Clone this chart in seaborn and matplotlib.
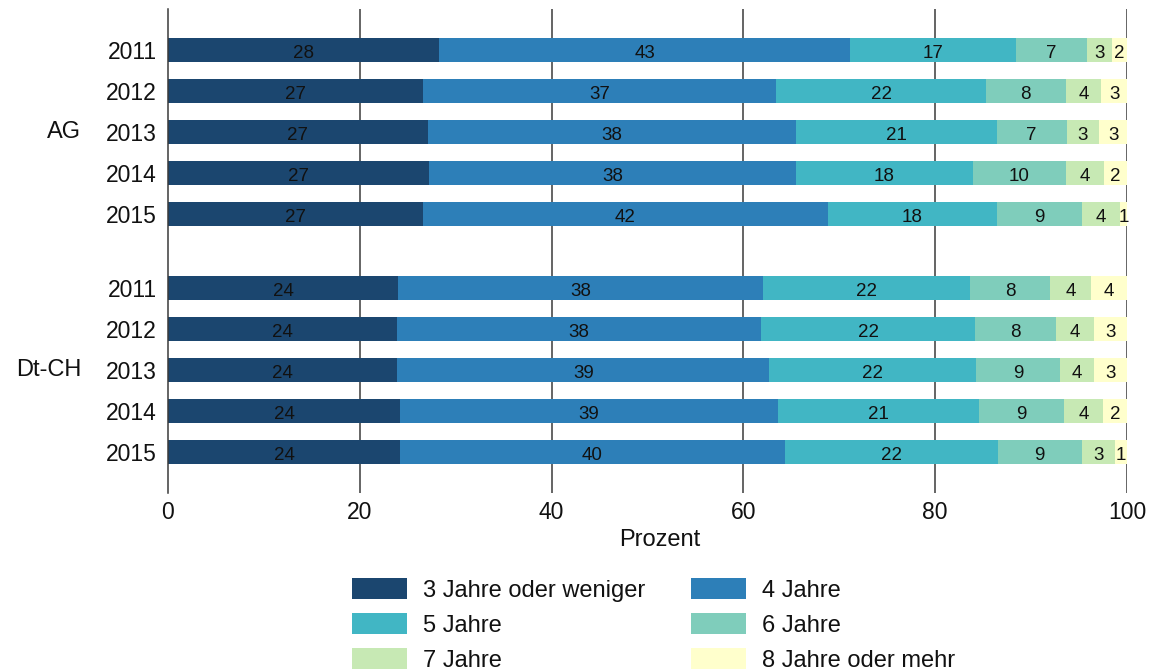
import matplotlib
matplotlib.use("Agg")
import matplotlib.pyplot as plt
import matplotlib.transforms as mtransforms
from matplotlib.patches import Patch
import seaborn as sns
import pandas as pd
import numpy as np

# ---- data ----
groups = ["AG", "Dt-CH"]
years = ["2011", "2012", "2013", "2014", "2015"]
categories = ["3 Jahre oder weniger", "4 Jahre", "5 Jahre", "6 Jahre", "7 Jahre", "8 Jahre oder mehr"]
# rows: AG 2011..2015, Dt-CH 2011..2015
jahre3 = [28.3, 26.6, 27.1, 27.2, 26.6, 24.0, 23.9, 23.9, 24.2, 24.2]
jahre4 = [42.8, 36.8, 38.4, 38.3, 42.2, 38.0, 37.9, 38.8, 39.4, 40.1]
jahre5 = [17.3, 21.9, 20.9, 18.4, 17.6, 21.6, 22.4, 21.6, 21.0, 22.2]
jahre6 = [7.4, 8.3, 7.3, 9.7, 8.9, 8.4, 8.4, 8.7, 8.8, 8.8]
jahre7 = [2.6, 3.7, 3.4, 4.0, 4.0, 4.2, 4.0, 3.6, 4.1, 3.4]
jahre8 = [1.6, 2.7, 2.9, 2.4, 0.7, 3.8, 3.4, 3.4, 2.5, 1.3]
colors = ["#1b466f", "#2d7fb8", "#41b6c4", "#7fcdbb", "#c7e9b4", "#ffffcc"]

series = [jahre3, jahre4, jahre5, jahre6, jahre7, jahre8]

# ---- layout ----
group_gap = 5.8
positions = [gi * group_gap + yi for gi in range(len(groups)) for yi in range(len(years))]
tick_labels = [y for _ in groups for y in years]

vals = np.array(series)            # (6, 10)
cums = np.cumsum(vals, axis=0)     # cumulative right edges

df = pd.DataFrame({"pos": positions})
for i, c in enumerate(categories):
    df[c] = cums[i]

W, H = 1154, 671
fig = plt.figure(figsize=(W / 100, H / 100), dpi=100)
sns.set_style("white")
plt.rcParams["font.family"] = ["Liberation Sans", "DejaVu Sans"]
ax = fig.add_axes([168 / W, 1 - 493 / H, 959 / W, 484 / H])

# vertical grid behind bars
for xv in [20, 40, 60, 80, 100]:
    ax.axvline(xv, color="#3a3a3a", lw=1.1, zorder=0)

for i in reversed(range(len(categories))):
    sns.barplot(data=df, x=categories[i], y="pos", orient="h", native_scale=True,
                color=colors[i], width=0.6, errorbar=None, linewidth=0,
                saturation=1, ax=ax, zorder=2)

# segment labels
for i in range(len(categories)):
    for r, p in enumerate(positions):
        v = vals[i, r]
        ax.text(cums[i, r] - v / 2, p + 0.04, f"{v:.0f}", ha="center", va="center_baseline",
                fontsize=13.5, color="#111111", zorder=3)

ax.set_xlim(0, 100)
ax.set_ylim(positions[-1] + 1.0, -1.0)
ax.set_yticks(positions)
ax.set_yticklabels(tick_labels)
ax.set_xticks([0, 20, 40, 60, 80, 100])
ax.tick_params(axis="y", length=0, pad=8, labelsize=16.5, labelcolor="#111111")
ax.tick_params(axis="x", length=0, pad=6, labelsize=16.5, labelcolor="#111111")
ax.set_ylabel("")
ax.set_xlabel("Prozent", fontsize=17, color="#111111")
ax.xaxis.set_label_coords((659.5 - 168) / 959, (493 - 529) / 484)
ax.xaxis.label.set_va("top")

for s in ["top", "right", "bottom"]:
    ax.spines[s].set_visible(False)
ax.spines["left"].set_color("#3a3a3a")
ax.spines["left"].set_linewidth(1.1)
ax.spines["left"].set_zorder(4)

# group labels
trans = mtransforms.blended_transform_factory(ax.transAxes, ax.transData)
for gi, g in enumerate(groups):
    mid = gi * group_gap + (len(years) - 1) / 2
    ax.text((81 - 168) / 959, mid, g, ha="right", va="center", fontsize=17,
            color="#111111", transform=trans)

# legend, row-wise order in 2 columns
handles = [Patch(facecolor=colors[i], edgecolor="none") for i in range(len(categories))]
order = [0, 2, 4, 1, 3, 5]
fig.legend([handles[i] for i in order], [categories[i] for i in order],
           loc="upper left", bbox_to_anchor=(352 / W, 1 - 578 / H), ncol=2,
           frameon=False, fontsize=17, borderaxespad=0, borderpad=0,
           handlelength=2.33, handleheight=1.02, handletextpad=0.68,
           columnspacing=1.95, labelspacing=0.47, labelcolor="#111111")

fig.savefig("out.png", dpi=100)
